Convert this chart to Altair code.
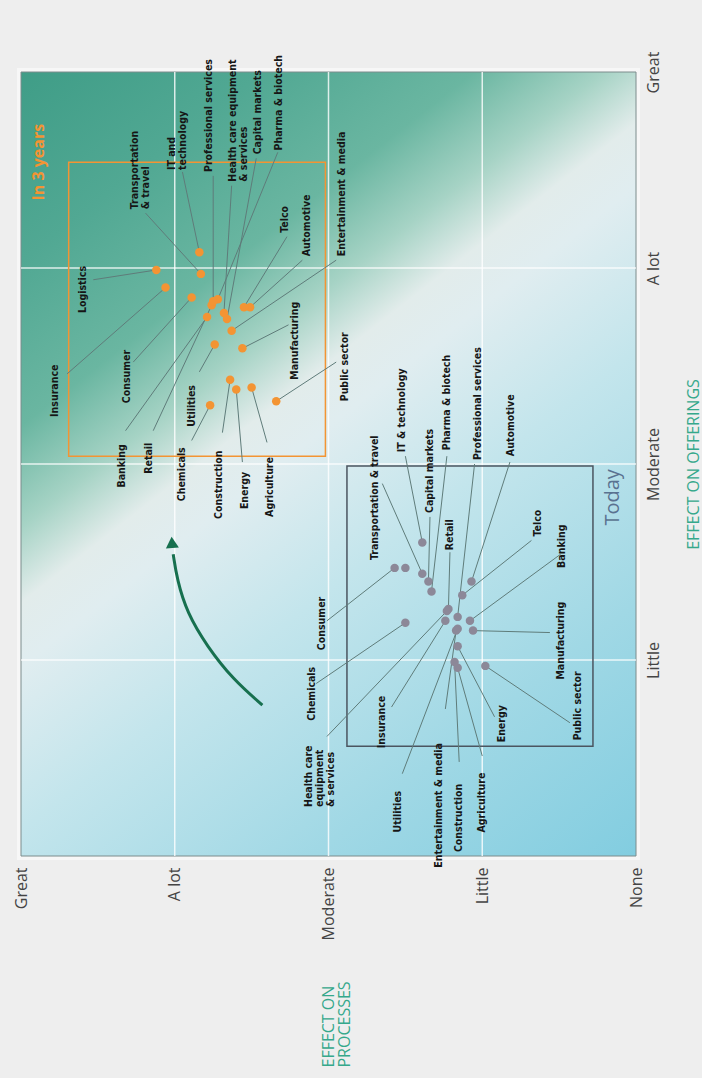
import altair as alt
import pandas as pd

# Scale levels shared by both axes (0 = None ... 4 = Great)
LEVELS = ["None", "Little", "Moderate", "A lot", "Great"]

SECTORS = [
    "Insurance", "Logistics", "Consumer", "Banking", "Retail", "Chemicals",
    "Utilities", "Construction", "Energy", "Agriculture", "Public sector",
    "Manufacturing", "Entertainment & media", "Automotive", "Telco",
    "Pharma & biotech", "Capital markets", "Health care equipment & services",
    "Professional services", "IT & technology", "Transportation & travel",
]

# ---- In 3 years -------------------------------------------------------------
future_text = [
    "Insurance", "Logistics", "Consumer", "Banking", "Retail", "Chemicals",
    "Utilities", "Construction", "Energy", "Agriculture", "Public sector",
    "Manufacturing", "Entertainment & media", "Automotive", "Telco",
    "Pharma & biotech", "Capital markets", "Health care equipment\n& services",
    "Professional services", "IT and\ntechnology", "Transportation\n& travel",
]
future_proc = [3.06, 3.12, 2.89, 2.79, 2.76, 2.77, 2.74, 2.64, 2.60, 2.50, 2.34,
               2.56, 2.63, 2.51, 2.55, 2.72, 2.66, 2.68, 2.75, 2.84, 2.83]
future_off = [2.90, 2.99, 2.85, 2.75, 2.81, 2.30, 2.61, 2.43, 2.38, 2.39, 2.32,
              2.59, 2.68, 2.80, 2.80, 2.84, 2.74, 2.77, 2.83, 3.08, 2.97]
future_label_proc = [3.78, 3.60, 3.31, 3.34, 3.17, 2.95, 2.89, 2.71, 2.54, 2.38, 1.89,
                     2.22, 1.91, 2.14, 2.28, 2.32, 2.46, 2.62, 2.78, 3.02, 3.26]
future_label_off = [2.24, 2.77, 2.31, 1.88, 1.95, 1.81, 2.19, 1.72, 1.77, 1.73, 2.32,
                    2.43, 3.06, 3.06, 3.18, 3.60, 3.58, 3.44, 3.49, 3.50, 3.30]
future_lead_proc = [3.70, 3.53, 3.27, 3.32, 3.14, 2.89, 2.84, 2.69, 2.56, 2.40, 1.95,
                    2.26, 1.95, 2.17, 2.27, 2.33, 2.47, 2.63, 2.75, 2.95, 3.19]
future_lead_off = [2.46, 2.94, 2.52, 2.17, 2.17, 2.12, 2.47, 2.16, 2.01, 2.11, 2.52,
                   2.71, 3.04, 3.04, 3.16, 3.59, 3.56, 3.42, 3.47, 3.49, 3.28]

# ---- Today (Logistics is plotted but not labelled) --------------------------
today_text = [
    "Insurance", None, "Consumer", "Banking", "Retail", "Chemicals",
    "Utilities", "Construction", "Energy", "Agriculture", "Public sector",
    "Manufacturing", "Entertainment & media", "Automotive", "Telco",
    "Pharma & biotech", "Capital markets", "Health care\nequipment\n& services",
    "Professional services", "IT & technology", "Transportation & travel",
]
today_proc = [1.24, 1.50, 1.57, 1.08, 1.22, 1.50, 1.16, 1.18, 1.16, 1.16, 0.98,
              1.06, 1.17, 1.07, 1.13, 1.33, 1.35, 1.23, 1.16, 1.39, 1.39]
today_off = [1.20, 1.47, 1.47, 1.20, 1.26, 1.19, 1.16, 0.99, 1.07, 0.96, 0.97,
             1.15, 1.15, 1.40, 1.33, 1.35, 1.40, 1.25, 1.22, 1.60, 1.44]
today_label_proc = [1.65, None, 2.04, 0.48, 1.21, 2.11, 1.55, 1.15, 0.87, 1.00, 0.38,
                    0.49, 1.28, 0.81, 0.64, 1.23, 1.34, 2.13, 1.03, 1.52, 1.70]
today_label_off = [0.55, None, 1.05, 1.47, 1.56, 0.69, 0.12, 0.02, 0.58, 0.12, 0.59,
                   0.90, -0.06, 2.04, 1.63, 2.07, 1.75, 0.25, 2.02, 2.06, 1.51]
today_lead_proc = [1.59, None, 2.01, 0.49, 1.21, 2.08, 1.52, 1.15, 0.92, 1.00, 0.43,
                   0.56, 1.24, 0.82, 0.68, 1.23, 1.34, 2.01, 1.05, 1.50, 1.65]
today_lead_off = [0.76, None, 1.20, 1.54, 1.55, 0.88, 0.42, 0.48, 0.71, 0.51, 0.68,
                  1.14, 0.75, 2.01, 1.61, 2.04, 1.73, 0.61, 2.00, 2.04, 1.90]

# ---- Group boxes and their captions -----------------------------------------
PERIODS = ["In 3 years", "Today"]
box_proc_from = [3.69, 1.88]
box_proc_to = [2.02, 0.28]
box_off_from = [3.54, 1.99]
box_off_to = [2.04, 0.56]
caption_proc = [3.88, 0.15]
caption_off = [3.54, 1.83]

# ---- Arrow from today towards the 3-year cluster ----------------------------
arrow_proc = [2.43, 2.62, 2.79, 2.92, 2.985, 3.01]
arrow_off = [0.77, 0.90, 1.07, 1.24, 1.41, 1.54]
arrow_tip_proc = [3.018]
arrow_tip_off = [1.60]

ORANGE = "#f39433"
GREY_DOT = "#8c8898"
LEAD = "#5f7c7a"
TEAL_TITLE = "#35a88b"
ARROW_GREEN = "#17704f"
LABEL_FONT = "'DejaVu Sans Condensed', 'Liberation Sans Narrow', 'DejaVu Sans', sans-serif"

level_expr = "[" + ",".join("'" + s + "'" for s in LEVELS) + "][datum.value]"

xscale = alt.Scale(domain=[0, 4], reverse=True, nice=False, zero=False)
yscale = alt.Scale(domain=[0, 4], nice=False, zero=False)

x_axis = alt.Axis(
    orient="bottom", values=[0, 1, 2, 3, 4], labelExpr=level_expr,
    labelAngle=270, labelAlign="right", labelBaseline="middle", labelPadding=11,
    labelFlush=False, labelOverlap=False, ticks=False, tickSize=0, domain=False,
    grid=False, labelFont="Open Sans", labelFontSize=16, labelColor="#444444",
    title=["EFFECT ON", "PROCESSES"], titleAngle=270, titleAlign="left",
    titleBaseline="middle", titleX=307, titleY=211, titleColor=TEAL_TITLE,
    titleFont="Open Sans", titleFontSize=16, titleFontWeight="normal",
    titleLineHeight=16,
)
y_axis = alt.Axis(
    orient="right", values=[1, 2, 3, 4], labelExpr=level_expr,
    labelAngle=270, labelAlign="center", labelBaseline="middle", labelPadding=17,
    labelFlush=False, labelOverlap=False, ticks=False, tickSize=0, domain=False,
    grid=False, labelFont="Open Sans", labelFontSize=16, labelColor="#444444",
    title="EFFECT ON OFFERINGS", titleAngle=270, titleAlign="center",
    titleBaseline="middle", titleX=57, titleY=392, titleColor=TEAL_TITLE,
    titleFont="Open Sans", titleFontSize=16, titleFontWeight="normal",
)

# ---- Tables -----------------------------------------------------------------
frame = pd.DataFrame({"p0": [0], "p1": [4], "o0": [0], "o1": [4]})
grid_v = pd.DataFrame({"p": [1, 2, 3]})
grid_h = pd.DataFrame({"o": [1, 2, 3]})

future = pd.DataFrame({
    "sector": SECTORS, "text": future_text, "p": future_proc, "o": future_off,
    "lp": future_label_proc, "lo": future_label_off,
    "ep": future_lead_proc, "eo": future_lead_off,
})
today = pd.DataFrame({
    "sector": SECTORS, "text": today_text, "p": today_proc, "o": today_off,
    "lp": today_label_proc, "lo": today_label_off,
    "ep": today_lead_proc, "eo": today_lead_off,
})
today_labelled = today.dropna(subset=["text"])
boxes = pd.DataFrame({
    "period": PERIODS, "p0": box_proc_from, "p1": box_proc_to,
    "o0": box_off_from, "o1": box_off_to, "cp": caption_proc, "co": caption_off,
})
arrow = pd.DataFrame({"p": arrow_proc, "o": arrow_off, "step": list(range(len(arrow_proc)))})
arrow_tip = pd.DataFrame({"p": arrow_tip_proc, "o": arrow_tip_off})


def X(field):
    return alt.X(field, type="quantitative", scale=xscale, axis=x_axis)


def Y(field):
    return alt.Y(field, type="quantitative", scale=yscale, axis=y_axis)


# Diagonal wash: teal (top left) -> white band -> light blue (bottom right)
gradient = alt.Gradient(
    gradient="linear", x1=0, y1=0, x2=0.718, y2=1.173,
    stops=[
        alt.GradientStop(color="#3f9d87", offset=0.0),
        alt.GradientStop(color="#51a893", offset=0.15),
        alt.GradientStop(color="#6ab6a1", offset=0.28),
        alt.GradientStop(color="#a6d3c5", offset=0.36),
        alt.GradientStop(color="#e2eceb", offset=0.42),
        alt.GradientStop(color="#e0edf0", offset=0.47),
        alt.GradientStop(color="#c3e5ec", offset=0.6),
        alt.GradientStop(color="#a0d8e5", offset=0.8),
        alt.GradientStop(color="#82cde0", offset=1.0),
    ],
)

halo = alt.Chart(frame).mark_rect(fill="#f7f7f7", stroke="#f7f7f7", strokeWidth=8).encode(
    x=X("p0"), x2="p1", y=Y("o0"), y2="o1"
)
panel = alt.Chart(frame).mark_rect(color=gradient, stroke="#7d8c8c", strokeWidth=1).encode(
    x=X("p0"), x2="p1", y=Y("o0"), y2="o1"
)
vlines = alt.Chart(grid_v).mark_rule(color="white", strokeWidth=1.5, opacity=0.8).encode(
    x=X("p"), y=alt.value(0), y2=alt.value(784)
)
hlines = alt.Chart(grid_h).mark_rule(color="white", strokeWidth=1.5, opacity=0.8).encode(
    y=Y("o"), x=alt.value(0), x2=alt.value(615)
)

box_marks = alt.Chart(boxes).mark_rect(fill=None, strokeWidth=1.5).encode(
    x=X("p0"), x2="p1", y=Y("o0"), y2="o1",
    stroke=alt.Stroke("period:N", scale=alt.Scale(domain=PERIODS, range=[ORANGE, "#4b5560"]), legend=None),
)
caption_future = alt.Chart(boxes).transform_filter(
    alt.datum.period == "In 3 years"
).mark_text(
    angle=270, align="center", baseline="middle", font="Open Sans",
    fontSize=16, fontWeight="bold", color=ORANGE,
).encode(x=X("cp"), y=Y("co"), text="period:N")
caption_today = alt.Chart(boxes).transform_filter(
    alt.datum.period == "Today"
).mark_text(
    angle=270, align="center", baseline="middle", font="Open Sans",
    fontSize=20, color="#5a7290",
).encode(x=X("cp"), y=Y("co"), text="period:N")


def series(df, labelled, dot_color):
    leads = alt.Chart(labelled).mark_rule(color=LEAD, strokeWidth=1).encode(
        x=X("p"), y=Y("o"), x2="ep", y2="eo"
    )
    dots = alt.Chart(df).mark_circle(size=72, opacity=1, color=dot_color).encode(
        x=X("p"), y=Y("o")
    )
    names = alt.Chart(labelled).mark_text(
        angle=270, align="left", baseline="middle", lineBreak="\n", lineHeight=11,
        font=LABEL_FONT, fontSize=10.5, fontWeight="bold", color="#161616",
    ).encode(x=X("lp"), y=Y("lo"), text="text:N")
    return leads + dots + names


arrow_line = alt.Chart(arrow).mark_line(color=ARROW_GREEN, strokeWidth=3, interpolate="basis").encode(
    x=X("p"), y=Y("o"), order="step:Q"
)
arrow_head = alt.Chart(arrow_tip).mark_point(
    shape="triangle-up", filled=True, size=170, angle=356, color=ARROW_GREEN, opacity=1
).encode(x=X("p"), y=Y("o"))

chart = alt.layer(
    halo, panel, vlines, hlines, box_marks,
    series(today, today_labelled, GREY_DOT),
    series(future, future, ORANGE),
    caption_future, caption_today, arrow_line, arrow_head,
).properties(
    width=615, height=784,
    autosize=alt.AutoSizeParams(type="none"),
    padding={"left": 21, "top": 72, "right": 66, "bottom": 222},
    background="#eeeeee",
).configure_view(stroke=None)

chart.save("out.html", embed_options={"renderer": "svg", "actions": False})
